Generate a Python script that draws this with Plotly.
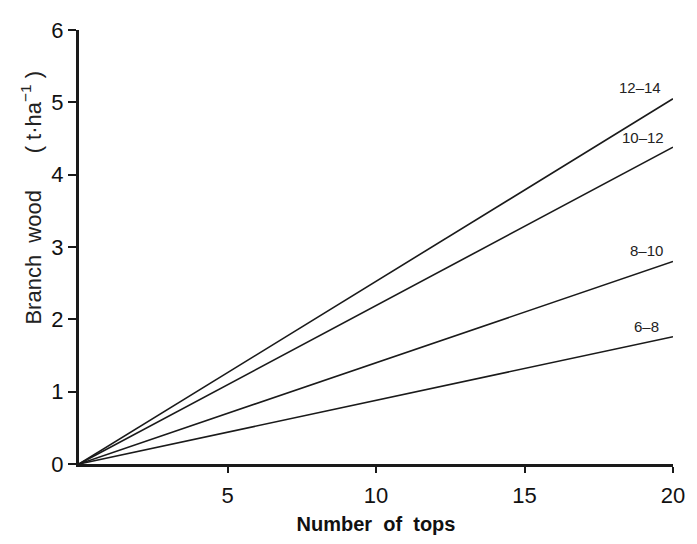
import plotly.graph_objects as go

# Data
series_names = ["12\u201314", "10\u201312", "8\u201310", "6\u20138"]
x_start = [0, 0, 0, 0]
x_end = [20, 20, 20, 20]
y_end = [5.05, 4.38, 2.8, 1.76]
label_y = [5.2, 4.52, 2.95, 1.9]
label_x = [18.9, 19.0, 19.1, 19.1]

x_ticks = [5, 10, 15, 20]
y_ticks = [0, 1, 2, 3, 4, 5, 6]

FONT = "Liberation Sans, Arial, sans-serif"

fig = go.Figure()
for name, x0, x1, y1 in zip(series_names, x_start, x_end, y_end):
    fig.add_trace(go.Scatter(
        x=[x0, x1], y=[0, y1], mode="lines", name=name,
        line=dict(color="#1a1a1a", width=1.6), showlegend=False,
    ))

for name, lx, ly in zip(series_names, label_x, label_y):
    fig.add_annotation(x=lx, y=ly, text=name, showarrow=False,
                       font=dict(family=FONT, size=15, color="#222"),
                       xanchor="center", yanchor="middle")

fig.add_annotation(
    xref="paper", yref="paper", x=-0.08, y=0.615,
    text="Branch  wood      ( t\u00b7ha<sup>\u22121</sup> )",
    textangle=-90, showarrow=False,
    font=dict(family=FONT, size=22, color="#222"),
    xanchor="center", yanchor="middle",
)

fig.update_layout(
    width=697, height=544,
    margin=dict(l=79, r=17, t=30, b=79),
    paper_bgcolor="white", plot_bgcolor="white",
    xaxis=dict(
        range=[0, 20], tickvals=x_ticks, ticktext=[str(v) for v in x_ticks],
        showgrid=False, zeroline=False, showline=True,
        linecolor="#1a1a1a", linewidth=3, ticks="outside", ticklen=6,
        tickwidth=2, tickcolor="#1a1a1a", ticklabelstandoff=4,
        tickfont=dict(family=FONT, size=22, color="#111"),
        title=dict(text="<b>Number  of  tops</b>", standoff=10,
                   font=dict(family=FONT, size=20, color="#111")),
    ),
    yaxis=dict(
        range=[0, 6], tickvals=y_ticks, ticktext=[str(v) for v in y_ticks],
        showgrid=False, zeroline=False, showline=True,
        linecolor="#1a1a1a", linewidth=3, ticks="outside", ticklen=8,
        tickwidth=2, tickcolor="#1a1a1a",
        tickfont=dict(family=FONT, size=22, color="#111"),
    ),
)

fig.write_html("out.html")
